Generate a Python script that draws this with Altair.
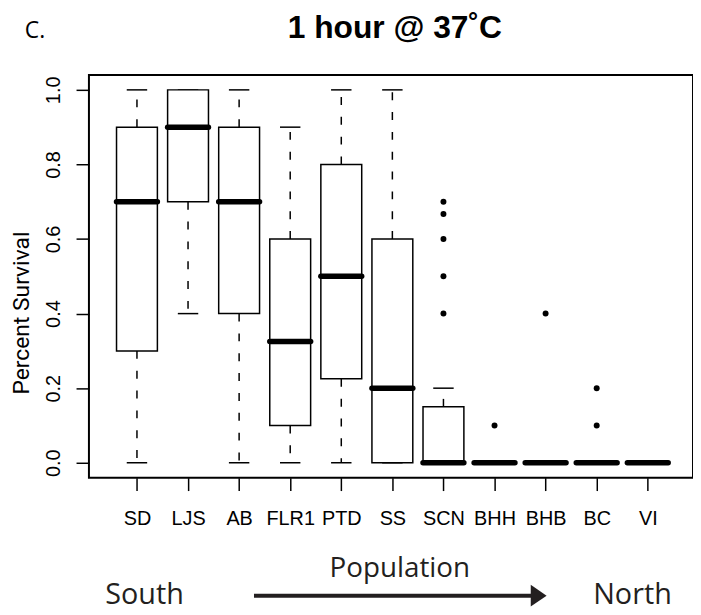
import altair as alt
import pandas as pd

# ---- data ----
populations = ["SD", "LJS", "AB", "FLR1", "PTD", "SS", "SCN", "BHH", "BHB", "BC", "VI"]
whisker_low = [0.0, 0.4, 0.0, 0.0, 0.0, 0.0, 0.0, 0.0, 0.0, 0.0, 0.0]
box_low = [0.3, 0.7, 0.4, 0.1, 0.225, 0.0, 0.0, 0.0, 0.0, 0.0, 0.0]
medians = [0.7, 0.9, 0.7, 0.325, 0.5, 0.2, 0.0, 0.0, 0.0, 0.0, 0.0]
box_high = [0.9, 1.0, 0.9, 0.6, 0.8, 0.6, 0.15, 0.0, 0.0, 0.0, 0.0]
whisker_high = [1.0, 1.0, 1.0, 0.9, 1.0, 1.0, 0.2, 0.0, 0.0, 0.0, 0.0]
outlier_pop = ["SCN", "SCN", "SCN", "SCN", "SCN", "BHH", "BHB", "BC", "BC"]
outlier_val = [0.4, 0.5, 0.6, 0.667, 0.7, 0.1, 0.4, 0.1, 0.2]
y_ticks = [0.0, 0.2, 0.4, 0.6, 0.8, 1.0]

positions = list(range(1, len(populations) + 1))
box_df = pd.DataFrame({
    "pop": populations, "pos": positions,
    "lo": whisker_low, "q1": box_low, "med": medians, "q3": box_high, "hi": whisker_high,
})
out_df = pd.DataFrame({
    "pop": outlier_pop,
    "pos": [populations.index(p) + 1 for p in outlier_pop],
    "val": outlier_val,
})

# ---- layout ----
W, H = 609, 406
PX_PER_UNIT = 51.5
x_scale = alt.Scale(domain=[0.06, 0.06 + W / PX_PER_UNIT], nice=False, zero=False)
y_scale = alt.Scale(domain=[-0.04, 1.04], nice=False, zero=False)

label_array = "[" + ",".join("'%s'" % p for p in populations) + "]"
x_axis = alt.Axis(values=positions, labelExpr=label_array + "[datum.value - 1]",
                  title=None, grid=False, domain=False, tickSize=13, tickWidth=1.5,
                  tickColor="black", labelFont="Liberation Sans", labelFontSize=20,
                  labelColor="black", labelPadding=34, labelBaseline="alphabetic",
                  labelFlush=False, labelOverlap=False)
y_axis = alt.Axis(values=y_ticks, format=".1f", title=None, grid=False, domain=False,
                  tickSize=13, tickWidth=1.5, tickColor="black",
                  labelFont="Liberation Sans", labelFontSize=20, labelColor="black",
                  labelAngle=270, labelAlign="center", labelBaseline="alphabetic",
                  labelPadding=16.6, labelFlush=False, labelOverlap=False)

X = lambda f: alt.X(f, scale=x_scale, axis=x_axis)
Y = lambda f: alt.Y(f, scale=y_scale, axis=y_axis)

base = alt.Chart(box_df).transform_calculate(
    left="datum.pos - 0.4", right="datum.pos + 0.4",
    capl="datum.pos - 0.2", capr="datum.pos + 0.2",
)

dash = [8, 12]
lower_whisker = base.transform_filter("datum.lo < datum.q1").mark_rule(
    color="black", strokeWidth=1.5, strokeDash=dash).encode(
    x=X("pos:Q"), y=Y("q1:Q"), y2="lo:Q")
upper_whisker = base.transform_filter("datum.hi > datum.q3").mark_rule(
    color="black", strokeWidth=1.5, strokeDash=dash).encode(
    x=X("pos:Q"), y=Y("q3:Q"), y2="hi:Q")
cap_low = base.mark_rule(color="black", strokeWidth=1.5).encode(
    x=X("capl:Q"), x2="capr:Q", y=Y("lo:Q"))
cap_high = base.mark_rule(color="black", strokeWidth=1.5).encode(
    x=X("capl:Q"), x2="capr:Q", y=Y("hi:Q"))
boxes = base.mark_bar(fill="white", stroke="black", strokeWidth=1.5).encode(
    x=X("left:Q"), x2="right:Q", y=Y("q1:Q"), y2="q3:Q")
median_lines = base.mark_rule(color="black", strokeWidth=5.5, strokeCap="round").encode(
    x=X("left:Q"), x2="right:Q", y=Y("med:Q"))
outliers = alt.Chart(out_df).mark_point(filled=True, color="black", size=36, opacity=1).encode(
    x=X("pos:Q"), y=Y("val:Q"))

# ---- annotations (pixel offsets from the plot origin) ----
def label(text, x, y, size, font="Open Sans", weight="normal", align="left", angle=0, color="black"):
    return alt.Chart(pd.DataFrame({"t": [text]})).mark_text(
        font=font, fontSize=size, fontWeight=weight, align=align, baseline="alphabetic",
        angle=angle, color=color,
    ).encode(text="t:N", x=alt.value(x), y=alt.value(y))

title = label("1 hour @ 37˚C", 308.4, -37, 32, font="Liberation Sans", weight="bold", align="center")
panel = label("C.", -64.6, -37, 23)
ylab = label("Percent Survival", -60.2, 240, 23, font="Roboto", align="center", angle=270)
xlab = label("Population", 313.4, 506, 28, align="center", color="#231f20")
south = label("South", 16.4, 533, 29, color="#231f20")
north = label("North", 508.4, 533, 29, color="#231f20")

arrow_line = alt.Chart(pd.DataFrame({"a": [0]})).mark_rule(color="#231f20", strokeWidth=4).encode(
    x=alt.value(166.4), x2=alt.value(447), y=alt.value(525))
arrow_head = alt.Chart(pd.DataFrame({"a": [0]})).mark_point(
    shape="M -1 -1.375 L 1 0 L -1 1.375 Z", filled=True, color="#231f20", size=256, opacity=1
).encode(x=alt.value(453.4), y=alt.value(525))

chart = alt.layer(
    lower_whisker, upper_whisker, cap_low, cap_high, boxes, median_lines, outliers,
    title, panel, ylab, xlab, south, north, arrow_line, arrow_head,
).properties(
    width=W, height=H,
    padding={"left": 81.6, "top": 65, "right": 0, "bottom": 142},
    autosize=alt.AutoSizeParams(type="none"),
    background="white",
).configure_view(stroke="black", strokeWidth=2)

chart.save("out.html", embed_options={"renderer": "svg", "actions": False})
